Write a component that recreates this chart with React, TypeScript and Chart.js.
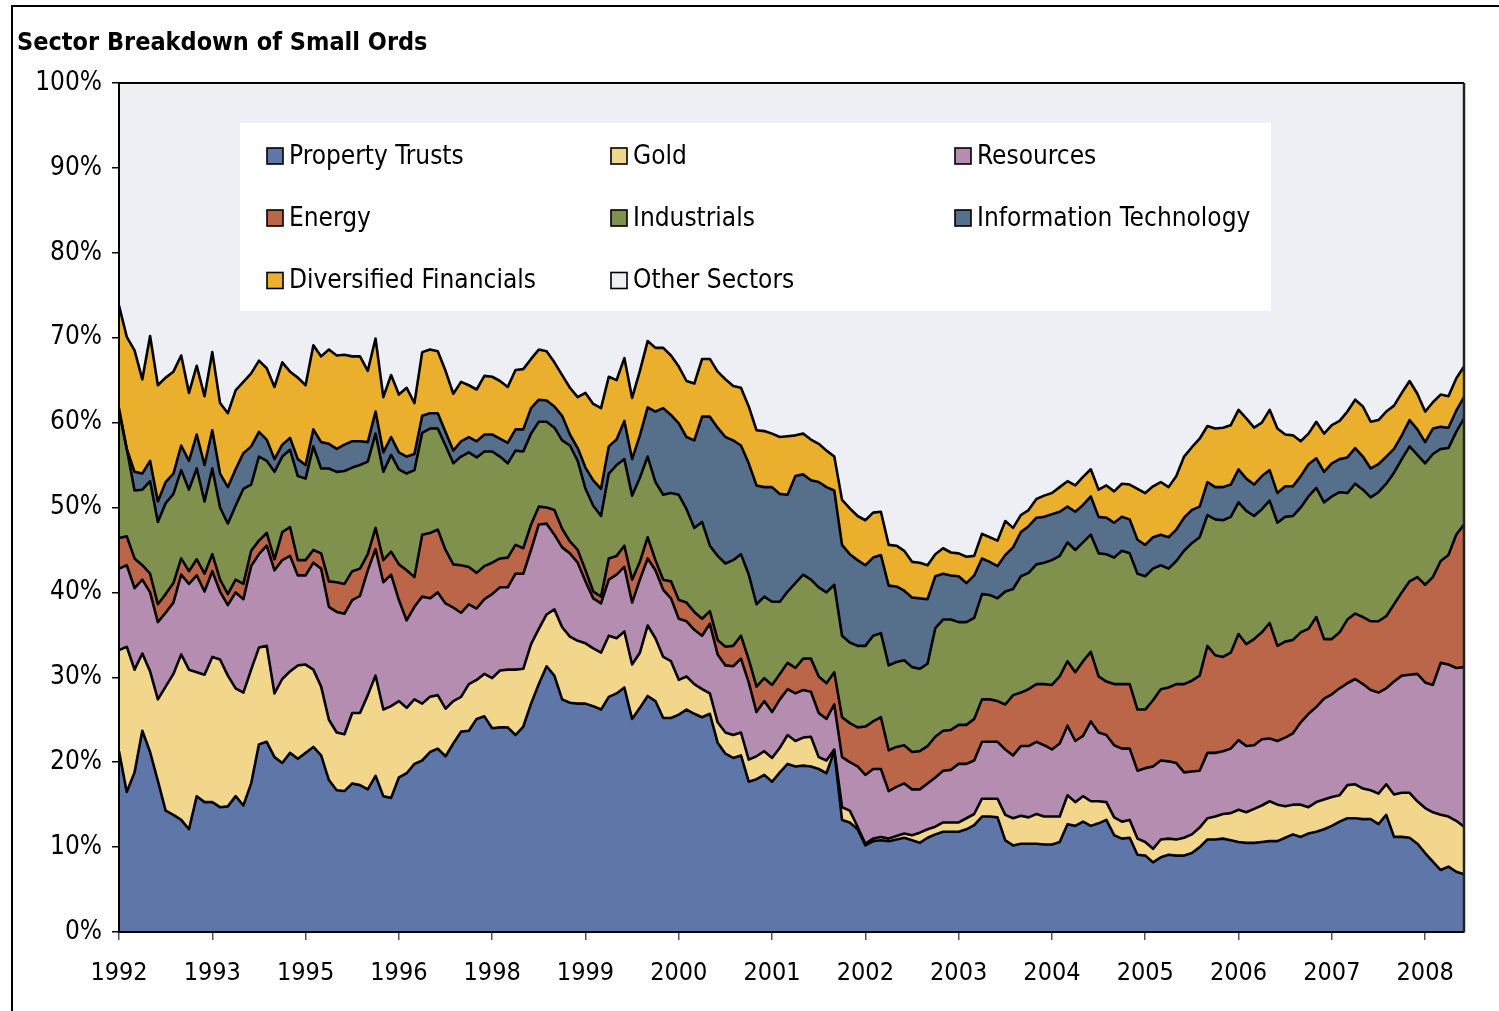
import React, { useEffect, useRef } from 'react';
import { Chart, registerables } from 'chart.js';

Chart.register(...registerables);

// ---- data (cumulative top edge of each layer, % of index) ----
const tickYears = ['1992', '1993', '1995', '1996', '1998', '1999', '2000', '2001', '2002', '2003', '2004', '2005', '2006', '2007', '2008'];
const POINTS_PER_TICK = 12;

const seriesNames = ['Property Trusts', 'Gold', 'Resources', 'Energy', 'Industrials', 'Information Technology', 'Diversified Financials', 'Other Sectors'];
const seriesColors = ['#5E77A8', '#F2D68B', '#B48DB0', '#BB6549', '#80904D', '#566F8B', '#EAAF2D', '#EEEFF5'];

const propertyTrustsTop = [
  21.3, 16.5, 18.8, 23.7, 21.2, 17.8, 14.3, 13.8, 13.2, 12.1,
  16.0, 15.3, 15.3, 14.7, 14.8, 16.0, 14.9, 17.5, 22.1, 22.4,
  20.6, 19.9, 21.1, 20.4, 21.1, 21.8, 20.8, 17.9, 16.7, 16.6,
  17.5, 17.3, 16.8, 18.4, 16.0, 15.8, 18.2, 18.7, 19.8, 20.2,
  21.2, 21.6, 20.7, 22.2, 23.6, 23.7, 25.1, 25.4, 24.0, 24.1,
  24.1, 23.2, 24.2, 26.9, 29.2, 31.3, 30.2, 27.4, 27.0, 26.9,
  26.9, 26.6, 26.2, 27.7, 28.1, 28.8, 25.1, 26.4, 27.8, 27.2,
  25.2, 25.2, 25.6, 26.2, 25.7, 25.3, 25.7, 22.3, 21.0, 20.5,
  20.8, 17.7, 18.0, 18.5, 17.7, 18.8, 19.8, 19.5, 19.6, 19.5,
  19.2, 18.7, 21.3, 13.2, 12.9, 12.1, 10.2, 10.7, 10.8, 10.7,
  10.9, 11.1, 10.8, 10.5, 11.1, 11.5, 11.8, 11.8, 11.8, 12.1,
  12.6, 13.6, 13.6, 13.5, 10.8, 10.2, 10.4, 10.4, 10.4, 10.3,
  10.3, 10.6, 12.7, 12.5, 13.0, 12.5, 12.8, 13.2, 11.4, 11.0,
  11.1, 9.1, 9.0, 8.2, 8.8, 9.1, 9.0, 9.0, 9.3, 10.0,
  10.9, 10.9, 11.0, 10.8, 10.6, 10.5, 10.5, 10.6, 10.7, 10.7,
  11.1, 11.5, 11.2, 11.6, 11.8, 12.1, 12.5, 13.0, 13.4, 13.4,
  13.3, 13.3, 12.7, 13.8, 11.2, 11.2, 11.1, 10.4, 9.3, 8.3,
  7.3, 7.7, 7.1, 6.8,
];

const goldTop = [
  33.2, 33.6, 30.9, 32.8, 30.7, 27.4, 28.9, 30.4, 32.7, 30.9,
  30.6, 30.3, 32.4, 32.1, 30.2, 28.7, 28.2, 30.9, 33.5, 33.7,
  28.1, 29.8, 30.7, 31.4, 31.5, 30.9, 28.9, 25.0, 23.5, 23.3,
  25.8, 25.8, 27.9, 30.2, 26.2, 26.6, 27.2, 26.4, 27.4, 26.9,
  27.7, 27.9, 26.3, 27.2, 27.7, 29.2, 29.7, 30.4, 29.9, 30.8,
  30.9, 30.9, 31.0, 33.9, 35.7, 37.4, 38.0, 35.9, 34.8, 34.3,
  34.0, 33.4, 32.9, 34.9, 34.6, 35.4, 31.5, 32.9, 36.1, 34.6,
  32.4, 31.9, 29.7, 30.1, 29.2, 28.6, 28.1, 24.7, 23.5, 23.2,
  23.5, 20.3, 20.7, 21.3, 20.5, 21.7, 23.2, 22.5, 22.9, 23.0,
  20.6, 20.2, 21.5, 14.7, 14.3, 12.4, 10.4, 11.0, 11.2, 11.0,
  11.3, 11.6, 11.4, 11.7, 12.1, 12.4, 12.9, 12.9, 12.9, 13.4,
  13.9, 15.7, 15.7, 15.7, 13.8, 13.4, 13.7, 13.5, 13.9, 13.6,
  13.6, 13.6, 16.1, 15.3, 16.0, 15.4, 15.4, 15.3, 13.5, 13.0,
  13.2, 11.0, 10.6, 9.8, 10.9, 11.0, 10.9, 11.1, 11.5, 12.3,
  13.4, 13.6, 13.9, 14.0, 14.4, 14.1, 14.5, 14.9, 15.4, 15.0,
  14.8, 15.0, 15.0, 14.7, 15.3, 15.6, 15.9, 16.1, 17.3, 17.4,
  16.9, 16.7, 16.3, 17.4, 16.2, 16.4, 16.4, 15.4, 14.6, 14.1,
  13.8, 13.6, 13.1, 12.4,
];

const resourcesTop = [
  42.8, 43.2, 40.5, 41.5, 40.0, 36.5, 37.6, 38.8, 42.1, 41.0,
  42.0, 40.1, 42.5, 40.1, 38.5, 40.0, 39.2, 43.1, 44.5, 45.5,
  42.6, 43.8, 44.3, 42.0, 42.0, 43.5, 42.8, 38.3, 37.7, 37.5,
  39.1, 39.6, 42.6, 45.1, 41.2, 42.1, 39.1, 36.7, 38.3, 39.5,
  39.3, 40.0, 38.7, 38.2, 37.6, 38.6, 38.1, 39.2, 39.8, 40.6,
  40.6, 42.2, 42.2, 45.0, 48.0, 48.1, 46.8, 45.3, 44.6, 43.5,
  41.3, 39.3, 38.7, 41.5, 42.1, 43.0, 38.8, 41.5, 44.0, 42.6,
  40.3, 39.3, 36.9, 36.6, 35.6, 34.9, 36.3, 32.7, 31.4, 31.3,
  32.2, 29.4, 25.9, 27.2, 25.9, 27.4, 28.6, 28.1, 28.5, 28.3,
  25.8, 25.1, 26.8, 20.6, 20.0, 19.5, 18.5, 19.2, 19.2, 16.6,
  17.1, 17.5, 16.8, 16.8, 17.5, 18.2, 19.0, 19.1, 19.8, 19.8,
  20.2, 22.4, 22.4, 22.4, 21.5, 20.8, 21.9, 21.9, 22.4, 22.0,
  21.5, 22.2, 24.3, 22.5, 23.1, 24.8, 23.5, 23.2, 22.0, 21.6,
  21.6, 19.0, 19.3, 19.5, 20.2, 20.1, 19.9, 18.8, 18.9, 19.0,
  21.1, 21.1, 21.3, 21.6, 22.6, 21.9, 22.0, 22.7, 22.8, 22.5,
  22.9, 23.4, 24.7, 25.7, 26.5, 27.5, 28.0, 28.7, 29.3, 29.8,
  29.2, 28.5, 28.2, 28.7, 29.5, 30.2, 30.3, 30.4, 29.4, 29.1,
  31.7, 31.5, 31.1, 31.2,
];

const energyTop = [
  46.4, 46.6, 44.0, 43.2, 42.2, 38.6, 39.8, 41.1, 44.0, 42.5,
  43.9, 42.2, 44.5, 41.5, 39.8, 41.5, 41.0, 44.9, 46.1, 47.0,
  43.9, 47.1, 47.7, 43.8, 43.8, 45.0, 44.6, 41.3, 41.2, 41.0,
  42.5, 42.8, 44.5, 47.6, 43.8, 44.8, 43.3, 42.6, 41.8, 46.8,
  47.0, 47.4, 45.0, 43.3, 43.2, 43.0, 42.3, 43.1, 43.5, 44.0,
  44.1, 45.6, 45.2, 48.0, 50.1, 50.0, 49.7, 47.5, 46.0, 45.0,
  42.6, 40.1, 39.5, 44.0, 44.3, 45.5, 41.5, 43.6, 46.5, 43.8,
  41.5, 41.3, 39.1, 38.8, 37.7, 36.9, 37.8, 34.4, 33.6, 33.7,
  34.9, 32.1, 28.9, 29.9, 29.1, 30.4, 31.7, 31.1, 32.2, 32.2,
  30.1, 29.3, 30.6, 25.3, 24.6, 24.1, 24.2, 24.8, 25.3, 21.4,
  21.8, 22.0, 21.2, 21.3, 21.9, 23.0, 23.7, 23.8, 24.4, 24.4,
  25.1, 27.4, 27.4, 27.2, 26.8, 27.9, 28.2, 28.6, 29.2, 29.2,
  29.1, 30.1, 31.9, 30.6, 31.9, 33.0, 30.1, 29.5, 29.2, 29.2,
  29.2, 26.2, 26.2, 27.3, 28.6, 28.8, 29.2, 29.2, 29.6, 30.2,
  33.7, 32.6, 32.4, 32.9, 35.1, 33.9, 34.5, 35.3, 36.4, 33.7,
  34.2, 34.4, 35.3, 35.7, 37.1, 34.5, 34.5, 35.3, 36.8, 37.5,
  37.1, 36.6, 36.6, 37.2, 38.6, 40.0, 41.3, 41.8, 40.9, 41.8,
  43.7, 44.4, 46.8, 48.0,
];

const industrialsTop = [
  61.4, 56.9, 52.0, 52.1, 53.1, 48.3, 50.5, 51.6, 54.4, 52.1,
  54.6, 50.7, 54.6, 50.0, 48.1, 50.2, 52.2, 52.7, 56.0, 55.5,
  54.2, 56.0, 56.8, 53.7, 53.4, 57.2, 54.6, 54.6, 54.2, 54.3,
  54.7, 55.0, 55.4, 58.7, 54.2, 56.2, 54.5, 54.0, 54.4, 58.8,
  59.3, 59.3, 57.3, 55.2, 56.0, 56.5, 55.9, 56.6, 56.6, 56.0,
  55.2, 56.7, 56.6, 58.7, 60.1, 60.1, 59.4, 57.9, 57.3, 55.5,
  52.2, 50.2, 49.0, 54.0, 55.0, 55.7, 51.4, 53.5, 56.0, 53.0,
  51.5, 51.7, 51.5, 49.8, 47.6, 48.3, 45.5, 44.3, 43.4, 43.8,
  44.5, 42.1, 38.6, 39.5, 38.9, 38.9, 40.1, 41.1, 42.1, 41.5,
  40.6, 40.0, 40.9, 34.9, 34.1, 33.7, 33.7, 34.9, 35.2, 31.4,
  31.8, 32.0, 31.2, 31.0, 31.6, 35.8, 36.8, 36.8, 36.5, 36.5,
  37.0, 39.8, 39.7, 39.3, 40.1, 40.4, 41.9, 42.3, 43.3, 43.5,
  43.8, 44.3, 45.9, 45.0, 45.9, 46.8, 44.6, 44.5, 44.1, 44.9,
  44.6, 42.2, 41.9, 42.8, 43.2, 42.8, 43.7, 44.9, 45.8, 46.5,
  49.1, 48.6, 48.5, 48.9, 50.6, 49.6, 49.0, 49.8, 50.8, 48.2,
  48.9, 49.0, 50.0, 51.3, 52.3, 50.6, 51.3, 51.8, 51.7, 52.8,
  52.1, 51.2, 51.8, 52.8, 54.1, 55.7, 57.2, 56.2, 55.2, 56.3,
  56.9, 57.0, 58.9, 60.5,
];

const infoTechTop = [
  61.7, 56.9, 54.2, 54.0, 55.5, 50.7, 53.0, 54.0, 57.3, 55.5,
  58.6, 55.0, 59.1, 54.0, 52.4, 54.5, 56.4, 57.2, 58.9, 58.0,
  55.7, 57.4, 58.2, 55.7, 55.0, 59.2, 57.7, 57.5, 56.9, 57.4,
  57.8, 57.8, 57.7, 61.3, 56.5, 58.3, 56.5, 56.0, 56.3, 60.8,
  61.1, 61.1, 58.9, 56.7, 57.8, 58.3, 57.8, 58.6, 58.6, 58.1,
  57.6, 59.2, 59.2, 61.7, 62.7, 62.6, 61.9, 60.8, 58.6, 57.0,
  54.7, 53.2, 52.2, 57.2, 58.0, 60.2, 55.7, 58.5, 61.8, 61.3,
  61.7, 60.9, 59.9, 58.3, 57.9, 60.7, 60.7, 59.4, 58.3, 57.9,
  57.3, 55.2, 52.6, 52.4, 52.4, 51.6, 51.5, 53.7, 53.9, 53.2,
  53.0, 52.4, 52.0, 45.6, 44.5, 43.8, 43.2, 44.1, 44.4, 40.8,
  40.7, 40.2, 39.4, 39.3, 39.2, 41.9, 42.2, 42.0, 41.9, 41.1,
  42.0, 44.0, 43.6, 43.1, 44.4, 45.3, 47.1, 47.8, 48.8, 48.9,
  49.2, 49.5, 50.1, 49.5, 50.3, 51.3, 48.9, 48.8, 48.2, 48.9,
  48.6, 46.2, 45.6, 46.5, 46.8, 46.5, 47.4, 48.8, 49.7, 50.1,
  53.0, 52.4, 52.4, 52.7, 54.5, 53.4, 52.7, 53.7, 54.4, 51.7,
  52.5, 52.5, 53.7, 55.1, 55.8, 54.2, 55.2, 55.7, 55.9, 57.0,
  56.0, 54.6, 55.1, 56.0, 56.9, 58.5, 60.3, 59.2, 57.7, 59.3,
  59.5, 59.4, 61.4, 63.0,
];

const divFinancialsTop = [
  73.8, 70.1, 68.5, 65.1, 70.2, 64.4, 65.3, 66.0, 67.9, 63.5,
  66.7, 63.1, 68.3, 62.3, 61.1, 63.8, 64.8, 65.8, 67.3, 66.4,
  64.2, 67.1, 66.0, 65.3, 64.4, 69.1, 67.8, 68.6, 67.9, 68.0,
  67.8, 67.8, 66.1, 69.9, 63.0, 65.6, 63.3, 64.1, 62.3, 68.3,
  68.6, 68.4, 66.1, 63.4, 64.8, 64.4, 63.9, 65.5, 65.4, 64.9,
  64.2, 66.2, 66.3, 67.5, 68.6, 68.4, 67.1, 65.6, 64.1, 63.0,
  63.5, 62.2, 61.7, 65.4, 65.0, 67.6, 62.9, 66.1, 69.6, 68.8,
  68.8, 67.9, 66.6, 64.9, 64.6, 67.5, 67.5, 66.0, 65.1, 64.3,
  64.1, 61.9, 59.1, 59.0, 58.7, 58.3, 58.4, 58.5, 58.7, 58.0,
  57.5, 56.7, 56.0, 50.9, 49.9, 49.0, 48.5, 49.4, 49.5, 45.6,
  45.5, 44.9, 43.6, 43.5, 43.2, 44.5, 45.2, 44.7, 44.6, 44.2,
  44.3, 46.9, 46.5, 46.1, 48.4, 47.6, 49.1, 49.7, 51.0, 51.4,
  51.7, 52.4, 53.1, 52.6, 53.6, 54.5, 52.1, 52.6, 51.9, 52.8,
  52.7, 52.2, 51.7, 52.5, 53.0, 52.4, 53.7, 56.0, 57.1, 58.1,
  59.6, 59.3, 59.4, 59.7, 61.5, 60.5, 59.4, 60.0, 61.5, 59.3,
  58.6, 58.5, 57.8, 58.7, 60.1, 58.7, 59.7, 60.2, 61.3, 62.7,
  61.9, 60.1, 60.3, 61.3, 62.0, 63.5, 64.9, 63.4, 61.3, 62.4,
  63.3, 63.1, 65.2, 66.6,
];

const yTickValues = [0, 10, 20, 30, 40, 50, 60, 70, 80, 90, 100];

// ---- styling ----
const W = 1499;
const H = 1011;
const FONT = '"DejaVu Sans Condensed", "DejaVu Sans", sans-serif';
const TITLE = 'Sector Breakdown of Small Ords';

export default function App() {
  const ref = useRef<HTMLCanvasElement | null>(null);

  useEffect(() => {
    const canvas = ref.current;
    if (!canvas) return;

    const layerTops = [propertyTrustsTop, goldTop, resourcesTop, energyTop, industrialsTop, infoTechTop, divFinancialsTop];
    const labels = propertyTrustsTop.map((_, i) =>
      i % POINTS_PER_TICK === 0 && tickYears[i / POINTS_PER_TICK] ? tickYears[i / POINTS_PER_TICK] : ''
    );

    const datasets = layerTops.map((d, k) => ({
      label: seriesNames[k],
      data: d,
      backgroundColor: seriesColors[k],
      borderColor: '#000',
      borderWidth: 2.6,
      borderJoinStyle: 'round' as const,
      pointRadius: 0,
      pointHoverRadius: 0,
      tension: 0,
      fill: k === 0 ? 'origin' : '-1',
    }));

    const framePlugin = {
      id: 'frame',
      beforeDraw(chart: any) {
        const ctx = chart.ctx;
        const { left, top, right, bottom } = chart.chartArea;
        ctx.save();
        ctx.fillStyle = '#fff';
        ctx.fillRect(0, 0, W, H);
        ctx.fillStyle = '#000';
        ctx.fillRect(11, 5, W - 11, 2);
        ctx.fillRect(11, 5, 2, H - 5);
        ctx.fillStyle = seriesColors[7];
        ctx.fillRect(left, top, right - left, bottom - top);
        ctx.restore();
      },
      afterDatasetsDraw(chart: any) {
        const ctx = chart.ctx;
        const { left, top, right, bottom } = chart.chartArea;
        ctx.save();
        // plot border
        ctx.strokeStyle = '#000';
        ctx.lineWidth = 2;
        ctx.beginPath();
        ctx.moveTo(left, bottom);
        ctx.lineTo(left, top);
        ctx.lineTo(right, top);
        ctx.stroke();
        ctx.strokeStyle = '#222';
        ctx.lineWidth = 2.5;
        ctx.beginPath();
        ctx.moveTo(right, top);
        ctx.lineTo(right, bottom);
        ctx.stroke();
        ctx.strokeStyle = '#000';
        ctx.lineWidth = 2;
        ctx.beginPath();
        ctx.moveTo(left, bottom);
        ctx.lineTo(right, bottom);
        ctx.stroke();

        // title
        ctx.fillStyle = '#000';
        ctx.font = `bold 25px ${FONT}`;
        ctx.textBaseline = 'middle';
        ctx.textAlign = 'left';
        ctx.fillText(TITLE, 17, 43);

        // legend box
        ctx.fillStyle = '#fff';
        ctx.fillRect(240, 123, 1031, 188);
        const colX = [267, 611, 955];
        const rowY = [156, 218, 280.5];
        ctx.font = `26px ${FONT}`;
        seriesNames.forEach((name, k) => {
          const cx = colX[k % 3];
          const cy = rowY[Math.floor(k / 3)];
          ctx.fillStyle = seriesColors[k];
          ctx.fillRect(cx, cy - 8, 16, 16);
          ctx.strokeStyle = '#000';
          ctx.lineWidth = 1.6;
          ctx.strokeRect(cx, cy - 8, 16, 16);
          ctx.fillStyle = '#000';
          ctx.fillText(name, cx + 22, cy + 1);
        });
        ctx.restore();
      },
    };

    const chart = new Chart(canvas, {
      type: 'line',
      data: { labels, datasets },
      options: {
        responsive: false,
        devicePixelRatio: 1,
        animation: false,
        events: [],
        layout: { padding: { left: 0, top: 83, right: 35, bottom: 0 } },
        plugins: {
          legend: { display: false },
          tooltip: { enabled: false },
          title: { display: false },
          filler: { drawTime: 'beforeDatasetsDraw' },
        },
        scales: {
          x: {
            type: 'category',
            offset: false,
            grid: { display: true, drawOnChartArea: false, drawTicks: true, tickLength: 8, color: '#555', lineWidth: 1.5 },
            border: { display: true, color: '#000', width: 2 },
            ticks: {
              autoSkip: false,
              maxRotation: 0,
              minRotation: 0,
              padding: 18,
              color: '#000',
              font: { family: FONT, size: 25 },
            },
            afterBuildTicks: (scale: any) => {
              scale.ticks = scale.ticks.filter((t: any) => labels[t.value] !== '');
            },
            afterFit: (scale: any) => {
              scale.height = 79;
            },
          },
          y: {
            type: 'linear',
            min: 0,
            max: 100,
            grid: { display: true, drawOnChartArea: false, drawTicks: true, tickLength: 7, color: '#000', lineWidth: 1.5 },
            border: { display: true, color: '#000', width: 2 },
            afterBuildTicks: (scale: any) => {
              scale.ticks = yTickValues.map((v) => ({ value: v }));
            },
            ticks: {
              padding: 10,
              color: '#000',
              font: { family: FONT, size: 26 },
              callback: (v: any) => `${v}%`,
            },
            afterFit: (scale: any) => {
              scale.width = 119;
            },
          },
        },
      } as any,
      plugins: [framePlugin],
    });

    return () => chart.destroy();
  }, []);

  return (
    <canvas
      ref={ref}
      width={W}
      height={H}
      style={{ position: 'fixed', left: 0, top: 0, width: W, height: H, display: 'block' }}
    />
  );
}
